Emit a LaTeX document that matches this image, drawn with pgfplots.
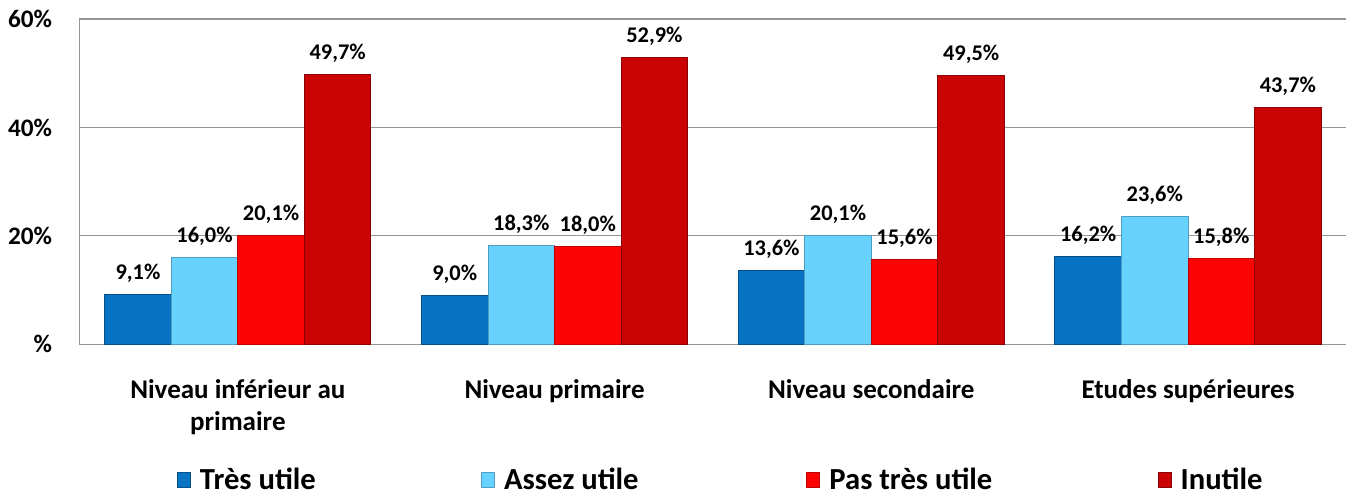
\documentclass[border=0pt]{standalone}
\usepackage{pgfplots}
\pgfplotsset{compat=1.18}
\usepackage{fontspec}
\setmainfont{Carlito}

\definecolor{tresutile}{RGB}{8,114,196}
\definecolor{assezutile}{RGB}{104,210,255}
\definecolor{pastres}{RGB}{252,4,4}
\definecolor{inutile}{RGB}{202,4,4}
\definecolor{gridgray}{RGB}{150,150,150}

% small square used as legend key
\pgfplotsset{sqlegend/.style={legend image code/.code={%
  \path[##1] (0pt,-3.75pt) rectangle (6.5pt,3.75pt);}}}

\begin{document}
\begin{tikzpicture}
\path[use as bounding box] (0,0) rectangle (672.5pt,249pt);
\begin{axis}[
  at={(39.7pt,77pt)}, anchor=south west,
  scale only axis, width=633pt, height=162.5pt,
  ybar=0pt, bar width=33.25pt,
  xmin=-0.5, xmax=3.5, ymin=0, ymax=60,
  xtick={0,1,2,3},
  xticklabels={Niveau inférieur au\\primaire, Niveau primaire, Niveau secondaire, Etudes supérieures},
  ytick={0,20,40,60}, yticklabels={\%,20\%,40\%,60\%},
  axis x line*=bottom, axis y line*=left,
  axis line style={gridgray, line width=0.6pt, -},
  ymajorgrids, grid style={gridgray, line width=0.6pt},
  major tick length=0pt, tick style={draw=none},
  yticklabel style={font=\bfseries\fontsize{12.6}{14}\selectfont, anchor=east, inner sep=0pt, xshift=-13.5pt},
  xticklabel style={font=\bfseries\fontsize{13.5}{16}\selectfont, align=center, anchor=north, inner sep=0pt, yshift=-17.5pt},
  nodes near coords={\pgfmathprintnumber[fixed,fixed zerofill,precision=1,use comma,assume math mode=true]{\pgfplotspointmeta}\%},
  every node near coord/.append style={font=\bfseries\fontsize{11.2}{13}\selectfont, anchor=base, yshift=7.5pt, text=black},
  legend columns=4,
  legend cell align=left,
  legend style={at={(0,0)}, anchor=west, xshift=48.7pt, yshift=-67.75pt, draw=none, fill=none,
    inner sep=0pt, outer sep=0pt, column sep=0pt,
    nodes={inner sep=0pt, font=\bfseries\fontsize{15.3}{17}\selectfont}},
  clip=false,
]
\addplot[sqlegend, fill=tresutile, draw=tresutile!70!black, line width=0.5pt]
  coordinates {(0,9.1) (1,9.0) (2,13.6) (3,16.2)};
\addlegendentry{\makebox[145pt][l]{\hspace{4.5pt}Très utile}}
\addplot[sqlegend, fill=assezutile, draw=assezutile!75!black, line width=0.5pt]
  coordinates {(0,16.0) (1,18.3) (2,20.1) (3,23.6)};
\addlegendentry{\makebox[155.5pt][l]{\hspace{4.5pt}Assez utile}}
\addplot[sqlegend, fill=pastres, draw=pastres!75!black, line width=0.5pt]
  coordinates {(0,20.1) (1,18.0) (2,15.6) (3,15.8)};
\addlegendentry{\makebox[168.5pt][l]{\hspace{4.5pt}Pas très utile}}
\addplot[sqlegend, fill=inutile, draw=inutile!70!black, line width=0.5pt]
  coordinates {(0,49.7) (1,52.9) (2,49.5) (3,43.7)};
\addlegendentry{\hspace{4.5pt}Inutile}
\end{axis}
\end{tikzpicture}
\end{document}
